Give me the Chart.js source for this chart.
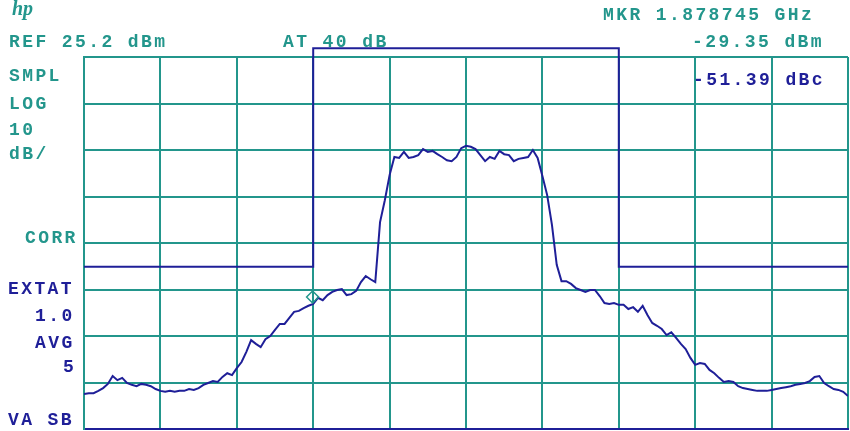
<!DOCTYPE html>
<html>
<head>
<meta charset="utf-8">
<title>Spectrum - ACP</title>
<script src="https://cdn.jsdelivr.net/npm/chart.js@4/dist/chart.umd.min.js"></script>
<style>
    html, body { margin: 0; padding: 0; background: #ffffff; }
    #wrap { width: 850px; height: 431px; }
</style>
</head>
<body>
<div id="wrap"><canvas id="spectrum" width="850" height="431"></canvas></div>
<script>
// Sweep (MHz) - 1.88 GHz centre, 0.625 MHz/div
const sweepStart = 1876.875;
const sweepStop = 1883.125;

// Grid lines
const freqTicks = [1876.875, 1877.5, 1878.125, 1878.75, 1879.375, 1880, 1880.625, 1881.25, 1881.875, 1882.5, 1883.125];
const levelTicks = [25.2, 15.2, 5.2, -4.8, -14.8, -24.8, -34.8, -44.8, -54.8];

// Trace A, dBm (even steps across the sweep)
const traceDbm = [
    -47.3, -47.1, -47.1, -46.6, -46.0, -45.1, -43.4, -44.3, -43.8, -44.9,
    -45.3, -45.6, -45.1, -45.3, -45.6, -46.2, -46.6, -46.8, -46.6, -46.8,
    -46.6, -46.6, -46.2, -46.4, -46.0, -45.3, -44.9, -44.5, -44.7, -43.6,
    -42.8, -43.2, -41.7, -40.4, -38.2, -35.7, -36.5, -37.2, -35.5, -34.8,
    -33.5, -32.2, -32.2, -30.9, -29.6, -29.4, -28.8, -28.3, -27.9, -26.6,
    -27.1, -26.0, -25.3, -24.9, -24.7, -26.0, -25.8, -25.1, -23.2, -21.9,
    -22.6, -23.2, -10.3, -5.6, -0.2, 3.7, 3.5, 4.8, 3.5, 3.7,
    4.1, 5.4, 4.8, 5.0, 4.3, 3.7, 3.0, 2.8, 3.7, 5.6,
    6.1, 5.9, 5.4, 4.1, 2.8, 3.7, 3.3, 5.0, 4.3, 4.1,
    2.8, 3.3, 3.5, 3.7, 5.2, 3.5, -0.4, -4.5, -10.9, -19.5,
    -23.0, -23.0, -23.6, -24.5, -24.9, -25.3, -24.9, -24.9, -26.2, -27.7,
    -27.9, -27.7, -28.1, -28.1, -29.0, -28.6, -29.6, -28.3, -30.3, -32.0,
    -32.6, -33.3, -34.6, -34.0, -35.2, -36.5, -37.6, -39.5, -41.0, -40.6,
    -40.8, -42.1, -42.8, -43.8, -44.7, -44.5, -44.7, -45.6, -46.0, -46.2,
    -46.4, -46.6, -46.6, -46.6, -46.4, -46.2, -46.0, -45.8, -45.6, -45.3,
    -45.1, -44.9, -44.5, -43.6, -43.4, -44.9, -45.6, -46.2, -46.4, -46.8,
    -47.7
];

// Limit mask
const limitFreq = [1876.875, 1878.75, 1878.75, 1881.25, 1881.25, 1883.125];
const limitDbm = [-19.9, -19.9, 27.1, 27.1, -19.9, -19.9];

// Marker
const markerFreq = [1878.745];
const markerDbm = [-26.4];

const TEAL = '#23968c';
const NAVY = '#1f1f98';

// Annotation texts [text, x, y, colour]
const screenText = [
    ['MKR 1.878745 GHz', 603, 20, TEAL],
    ['REF 25.2 dBm', 9, 47, TEAL],
    ['AT 40 dB', 283, 47, TEAL],
    ['-29.35 dBm', 692, 47, TEAL],
    ['-51.39 dBc', 693, 85, NAVY],
    ['SMPL', 9, 81, TEAL],
    ['LOG', 9, 109, TEAL],
    ['10', 9, 135, TEAL],
    ['dB/', 9, 159, TEAL],
    ['CORR', 25, 243, TEAL],
    ['EXTAT', 8, 294, NAVY],
    ['1.0', 35, 321, NAVY],
    ['AVG', 35, 348, NAVY],
    ['5', 63, 372, NAVY],
    ['VA SB', 8, 425, NAVY]
];

const step = (sweepStop - sweepStart) / (traceDbm.length - 1);
const tracePoints = traceDbm.map((v, i) => ({ x: sweepStart + i * step, y: v }));
const limitPoints = limitFreq.map((f, i) => ({ x: f, y: limitDbm[i] }));
const markerPoints = markerFreq.map((f, i) => ({ x: f, y: markerDbm[i] }));

// Textos da tela
const screenTextPlugin = {
    id: 'screenText',
    afterDraw(chart) {
        const ctx = chart.ctx;
        ctx.save();
        ctx.textBaseline = 'alphabetic';
        ctx.textAlign = 'left';
        ctx.font = 'bold 18px "Liberation Mono", monospace';
        ctx.letterSpacing = '2.4px';
        screenText.forEach(([t, x, y, c]) => {
            ctx.fillStyle = c;
            ctx.fillText(t, x, y);
        });
        // hp logo
        ctx.letterSpacing = '0px';
        ctx.font = 'italic bold 20px "Liberation Serif", serif';
        ctx.fillStyle = TEAL;
        ctx.fillText('hp', 12, 15);
        ctx.restore();
    }
};

new Chart(document.getElementById('spectrum'), {
    type: 'line',
    data: {
        datasets: [
            {
                label: 'Trace A',
                data: tracePoints,
                borderColor: NAVY,
                borderWidth: 2,
                pointRadius: 0,
                tension: 0,
                order: 2
            },
            {
                label: 'Limit',
                data: limitPoints,
                borderColor: NAVY,
                borderWidth: 2,
                pointRadius: 0,
                tension: 0,
                clip: false,
                order: 3
            },
            {
                label: 'Marker',
                type: 'scatter',
                data: markerPoints,
                pointStyle: 'rectRot',
                pointRadius: 6,
                borderColor: TEAL,
                borderWidth: 1.5,
                backgroundColor: 'rgba(0,0,0,0)',
                order: 1
            }
        ]
    },
    options: {
        responsive: false,
        animation: false,
        devicePixelRatio: 1,
        layout: { autoPadding: false, padding: { left: 84, top: 57, right: 2, bottom: 2 } },
        plugins: {
            legend: { display: false },
            tooltip: { enabled: false }
        },
        scales: {
            x: {
                type: 'linear',
                min: sweepStart,
                max: sweepStop,
                afterBuildTicks: (scale) => { scale.ticks = freqTicks.map(v => ({ value: v })); },
                ticks: { display: false },
                grid: { color: TEAL, lineWidth: 2, drawTicks: false },
                border: { color: NAVY, width: 2 }
            },
            y: {
                type: 'linear',
                min: -54.8,
                max: 25.2,
                afterBuildTicks: (scale) => { scale.ticks = levelTicks.map(v => ({ value: v })); },
                ticks: { display: false },
                grid: { color: TEAL, lineWidth: 2, drawTicks: false },
                border: { color: TEAL, width: 2 }
            }
        }
    },
    plugins: [screenTextPlugin]
});
</script>
</body>
</html>
